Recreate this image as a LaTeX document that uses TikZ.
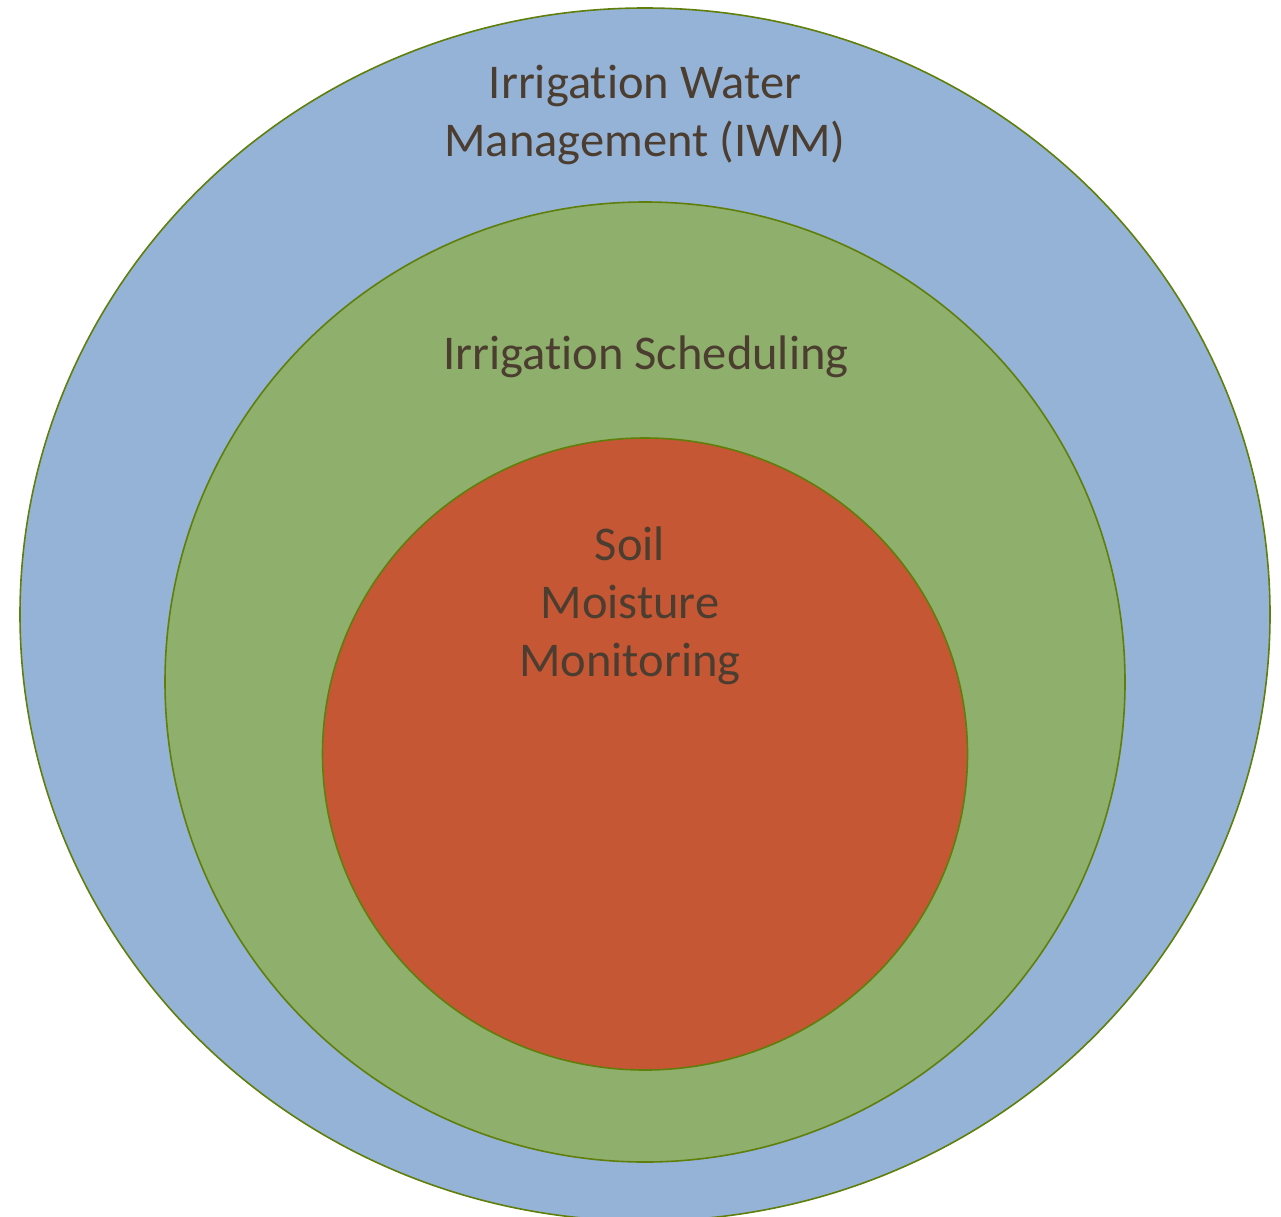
\documentclass[tikz,border=0pt]{standalone}
\usepackage{fontspec}
\setmainfont[RawFeature={-liga;-clig;-calt}]{Carlito}
\usetikzlibrary{shapes.geometric}

\definecolor{iwmblue}{HTML}{95B3D7}
\definecolor{schedgreen}{HTML}{8FAF6C}
\definecolor{soilred}{HTML}{C55735}
\definecolor{rimgreen}{HTML}{5F7F0A}
\definecolor{labelbrown}{HTML}{4B3D30}

\begin{document}
\begin{tikzpicture}[x=1pt,y=-1pt]
        \useasboundingbox (0,0) rectangle (1281,1216);

        \begin{scope}[every node/.style={ellipse,draw=rimgreen,line width=1.6pt,inner sep=0pt}]
          \node[fill=iwmblue,minimum width=1250pt,minimum height=1213pt]   (iwm)   at (645,614.5) {};
          \node[fill=schedgreen,minimum width=960pt,minimum height=960pt]  (sched) at (645,682) {};
          \node[fill=soilred,minimum width=645pt,minimum height=632pt]     (soil)  at (645,754) {};
        \end{scope}

        \begin{scope}[every node/.style={text=labelbrown,align=center,font=\fontsize{48.5}{58}\selectfont}]
          \node (iwmlabel)   at (645,115) {Irrigation Water\\Management (IWM)};
          \node (schedlabel) at (646,357) {Irrigation Scheduling};
          \node (soillabel)  at (630,606) {Soil\\Moisture\\Monitoring};
        \end{scope}

      \end{tikzpicture}
\end{document}
